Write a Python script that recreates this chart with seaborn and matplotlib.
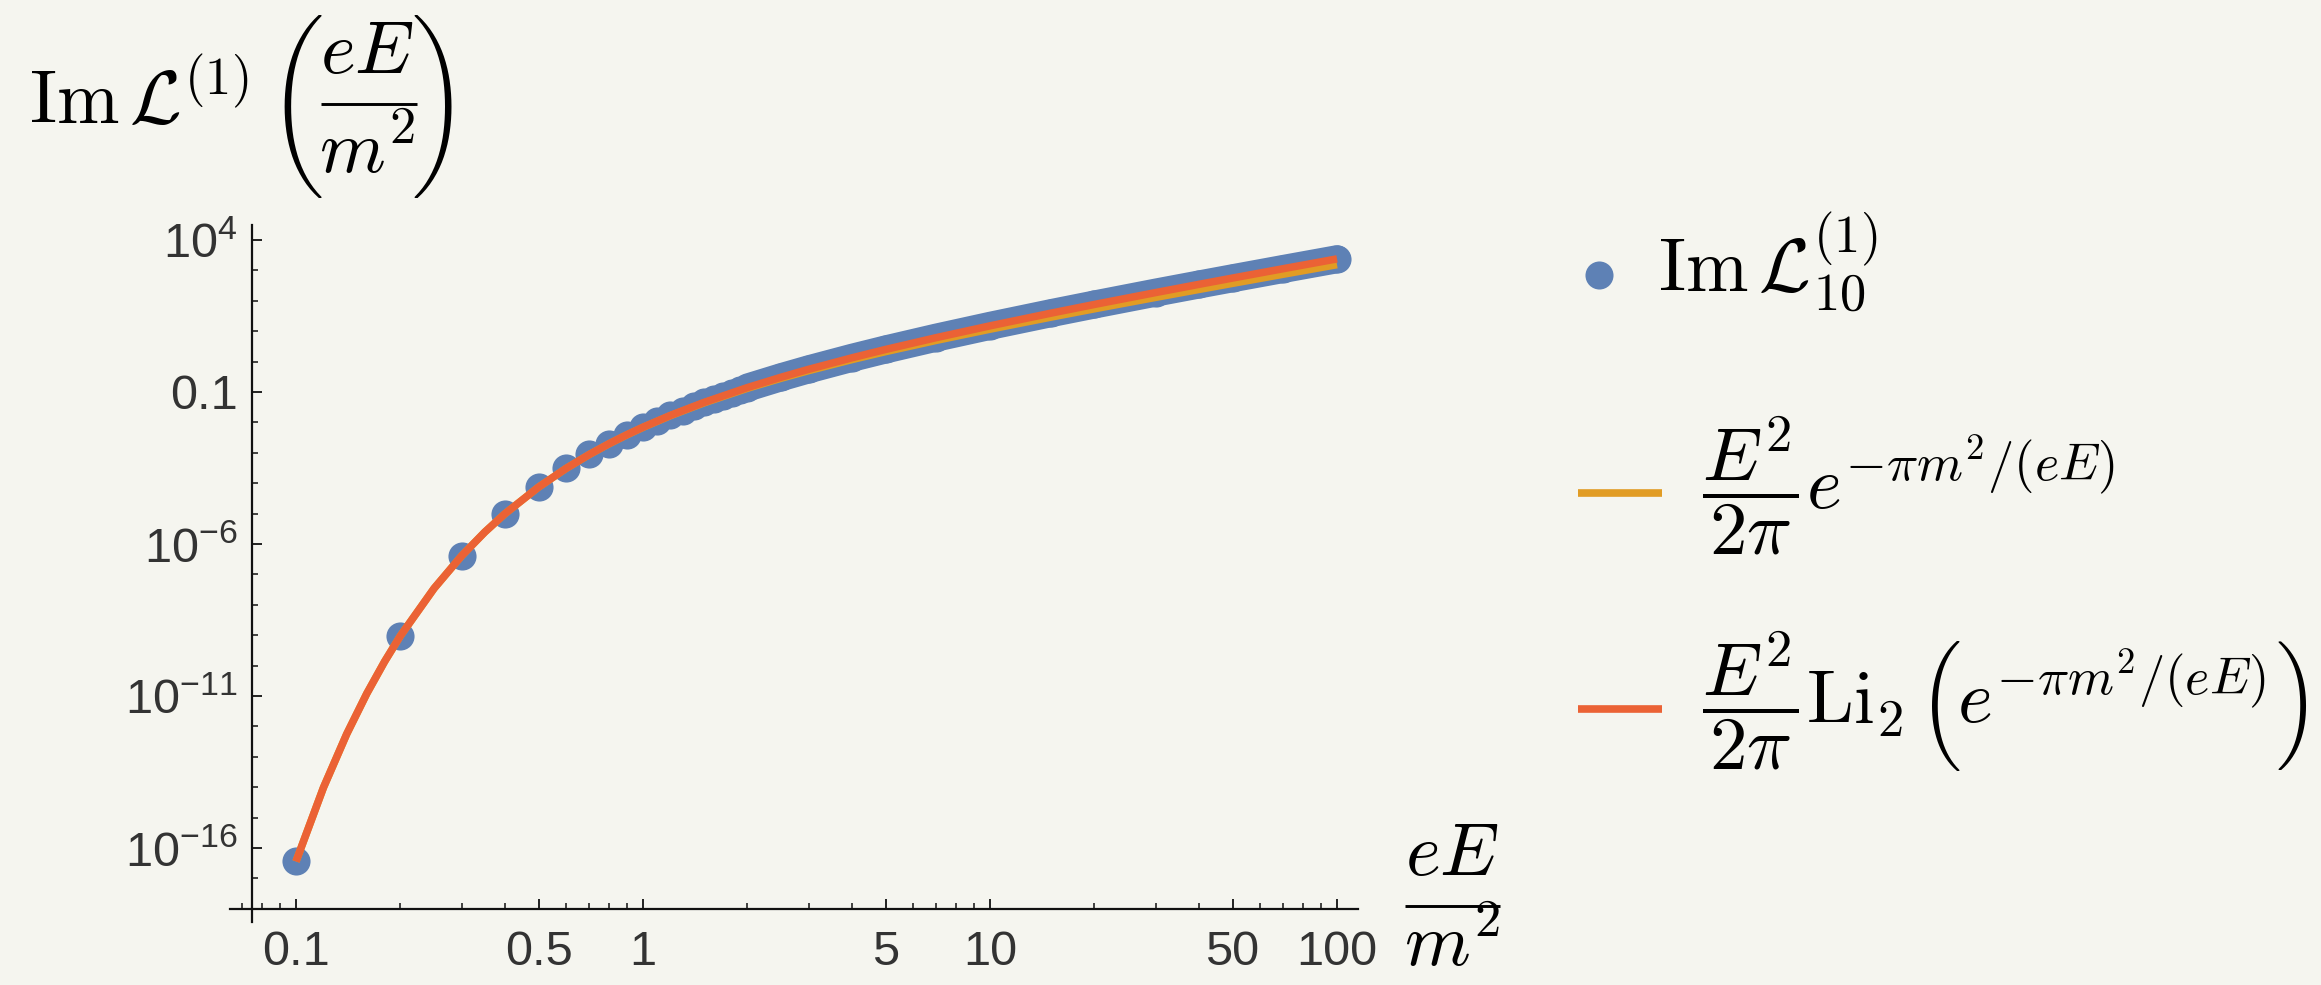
import os
import numpy as np
import matplotlib
matplotlib.use("Agg")
import matplotlib.pyplot as plt
import seaborn as sns
from matplotlib.ticker import FixedLocator, FixedFormatter, NullFormatter
from matplotlib.lines import Line2D
from matplotlib.font_manager import FontProperties

# ---------------- data (y given as log10 values) ----------------
# Im L_10^(1) sample points (field strength eE/m^2)
points_field = [0.1, 0.2, 0.3, 0.4, 0.5, 0.6, 0.7, 0.8, 0.9, 1.0,
                1.1, 1.2, 1.3, 1.4, 1.5, 1.6, 1.7, 1.8, 1.9, 2.0,
                2.5, 3, 4, 5, 7, 10, 15, 20, 30, 40, 50, 70, 100]
points_log10 = [-16.442, -9.018, -6.392, -5.005, -4.129, -3.515, -3.056, -2.695, -2.402, -2.158,
                -1.949, -1.769, -1.610, -1.469, -1.342, -1.227, -1.122, -1.026, -0.937, -0.854,
                -0.514, -0.255, 0.124, 0.399, 0.788, 1.176, 1.594, 1.878, 2.268, 2.536, 2.741, 3.047, 3.367]

# curves
curve_field = [0.1, 0.12, 0.14, 0.16, 0.18, 0.2, 0.25, 0.3, 0.35, 0.4, 0.5, 0.6, 0.7, 0.8, 0.9,
               1.0, 1.2, 1.5, 2.0, 2.5, 3, 4, 5, 7, 10, 15, 20, 30, 40, 50, 70, 100]
exp_curve_log10 = [-16.442, -14.010, -12.251, -10.917, -9.868, -9.018, -7.460, -6.392, -5.608, -5.005,
                   -4.129, -3.516, -3.057, -2.698, -2.406, -2.163, -1.777, -1.356, -0.878, -0.548,
                   -0.299, 0.065, 0.327, 0.697, 1.065, 1.463, 1.736, 2.111, 2.372, 2.573, 2.873, 3.188]
li2_curve_log10 = [-16.442, -14.010, -12.251, -10.917, -9.868, -9.018, -7.460, -6.392, -5.608, -5.005,
                   -4.129, -3.515, -3.056, -2.695, -2.402, -2.158, -1.769, -1.342, -0.854, -0.514,
                   -0.255, 0.124, 0.399, 0.788, 1.176, 1.594, 1.880, 2.270, 2.541, 2.748, 3.056, 3.379]

x_major = [0.1, 0.5, 1, 5, 10, 50, 100]
x_major_labels = ["0.1", "0.5", "1", "5", "10", "50", "100"]
x_minor = [0.07, 0.08, 0.09, 0.2, 0.3, 0.4, 0.6, 0.7, 0.8, 0.9, 2, 3, 4, 6, 7, 8, 9,
           20, 30, 40, 60, 70, 80, 90]
y_major = [1e4, 1e-1, 1e-6, 1e-11, 1e-16]
y_major_labels = [r"$10^{4}$", "0.1", r"$10^{-6}$", r"$10^{-11}$", r"$10^{-16}$"]
y_minor_exponents = list(range(-18, 5))

title_head = r"$\mathrm{Im}\,\mathcal{L}^{(1)}$"
frac_num = r"$eE$"
frac_den = r"$m^2$"
legend_labels = [r"$\mathrm{Im}\,\mathcal{L}_{10}^{(1)}$",
                 r"$\dfrac{E^2}{2\pi}e^{-\pi m^2/(eE)}$",
                 r"$\dfrac{E^2}{2\pi}\mathrm{Li}_2$",
                 r"$e^{-\pi m^2/(eE)}$"]

# ---------------- style ----------------
BLUE = "#5E81B5"
YELLOW = "#E19C24"
RED = "#EB6235"
BG = "#F5F5EF"
AXC = "#111111"
TXT = "#333333"

sns.set_theme(style="white")
plt.rcParams["font.family"] = ["Liberation Sans", "DejaVu Sans"]
plt.rcParams["mathtext.fontset"] = "custom"
plt.rcParams["mathtext.rm"] = "Liberation Sans"
plt.rcParams["mathtext.it"] = "Liberation Sans:italic"
plt.rcParams["mathtext.bf"] = "Liberation Sans:bold"

CMEX = FontProperties(fname=os.path.join(matplotlib.get_data_path(), "fonts", "ttf", "cmex10.ttf"))
BIGG_L, BIGG_R = "\xb5", "\xb6"   # cmex10 2.4em parentheses
BIG_L, BIG_R = "\xb3", "\xb4"     # cmex10 1.8em parentheses

W, H = 2321, 985
fig = plt.figure(figsize=(W / 100, H / 100), dpi=100, facecolor=BG)
ax = fig.add_axes([230 / W, 1 - 922 / H, 1128 / W, 697 / H])
ax.set_facecolor(BG)
ax.set_xscale("log")
ax.set_yscale("log")

px = np.array(points_field)
py = 10.0 ** np.array(points_log10)
cx = np.array(curve_field)

# dense part of the point series forms a continuous band
dense = px >= 2.0
sns.lineplot(x=px[dense], y=py[dense], ax=ax, color=BLUE, lw=20.2,
             solid_capstyle="round", solid_joinstyle="round", estimator=None, sort=False)
sns.scatterplot(x=px, y=py, ax=ax, color=BLUE, s=410, linewidth=0, legend=False, zorder=3)
sns.lineplot(x=cx, y=10.0 ** np.array(exp_curve_log10), ax=ax, color=YELLOW, lw=5.4,
             solid_capstyle="butt", estimator=None, sort=False, zorder=4)
sns.lineplot(x=cx, y=10.0 ** np.array(li2_curve_log10), ax=ax, color=RED, lw=5.4,
             solid_capstyle="butt", estimator=None, sort=False, zorder=5)

ax.set_xlim(10 ** -1.1902, 10 ** 2.0605)
ax.set_ylim(10 ** -18.434, 10 ** 4.493)

for s in ["top", "right"]:
    ax.spines[s].set_visible(False)
ax.spines["left"].set_position(("data", 10 ** -1.1268))
ax.spines["bottom"].set_position(("data", 1e-18))
for s in ["left", "bottom"]:
    ax.spines[s].set_color(AXC)
    ax.spines[s].set_linewidth(1.6)

ax.xaxis.set_major_locator(FixedLocator(x_major))
ax.xaxis.set_major_formatter(FixedFormatter(x_major_labels))
ax.xaxis.set_minor_locator(FixedLocator(x_minor))
ax.xaxis.set_minor_formatter(NullFormatter())
ax.yaxis.set_major_locator(FixedLocator(y_major))
ax.yaxis.set_major_formatter(FixedFormatter(y_major_labels))
ax.yaxis.set_minor_locator(FixedLocator([10.0 ** e for e in y_minor_exponents]))
ax.yaxis.set_minor_formatter(NullFormatter())

ax.tick_params(bottom=True, left=True, top=False, right=False, which="both")
ax.tick_params(which="major", direction="in", length=7.5, width=1.3, color=AXC,
               labelcolor=TXT, labelsize=35)
ax.tick_params(which="minor", direction="in", length=4, width=1.1, color=AXC)
ax.tick_params(axis="y", which="major", pad=10.5)
ax.tick_params(axis="x", which="major", pad=15)
ax.grid(False)


def ftxt(xp, yp, s, size=54, ha="left", va="baseline", **kw):
    """Place text at figure pixel coordinates (from top-left)."""
    return fig.text(xp / W, 1 - yp / H, s, fontsize=size, ha=ha, va=va, color="black", **kw)


def fline(x0, x1, yp, lw, color):
    fig.add_artist(Line2D([x0 / W, x1 / W], [1 - yp / H] * 2, lw=lw, color=color,
                          solid_capstyle="butt", transform=fig.transFigure))


# ---- y-axis title:  Im L^(1) ( eE / m^2 )
ftxt(29, 123, title_head, math_fontfamily="cm")
ftxt(268, 18, BIGG_L, fontproperties=CMEX, size=54)
ftxt(367, 73, frac_num, ha="center", math_fontfamily="cm")
fline(321, 417, 104, 2.1, "black")
ftxt(367, 173, frac_den, ha="center", math_fontfamily="cm")
ftxt(467, 18, BIGG_R, fontproperties=CMEX, size=54, ha="right")

# ---- x-axis title:  eE / m^2
ftxt(1452, 875, frac_num, ha="center", math_fontfamily="cm")
fline(1405, 1500, 906, 2.1, "black")
ftxt(1452, 966, frac_den, ha="center", math_fontfamily="cm")

# ---- legend (manual placement)
fig.add_artist(Line2D([1599 / W], [1 - 275 / H], marker="o", ms=20.2, color=BLUE,
                      ls="none", mew=0, transform=fig.transFigure))
fline(1578, 1662, 493, 5.5, YELLOW)
fline(1578, 1662, 709, 5.5, RED)
ftxt(1658, 292, legend_labels[0], math_fontfamily="cm")
ftxt(1702, 508, legend_labels[1], math_fontfamily="cm")
t_li = ftxt(1702, 723, legend_labels[2], math_fontfamily="cm")

renderer = fig.canvas.get_renderer()
bb_li = t_li.get_window_extent(renderer)
x_open = max(1919, bb_li.x1 + 14)
ftxt(x_open, 644, BIG_L, fontproperties=CMEX, size=52)
t_exp = ftxt(x_open + 38, 723, legend_labels[3], math_fontfamily="cm")
bb = t_exp.get_window_extent(renderer)
ftxt(bb.x1 + 10, 644, BIG_R, fontproperties=CMEX, size=52)

fig.savefig("out.png", dpi=100, facecolor=BG)
